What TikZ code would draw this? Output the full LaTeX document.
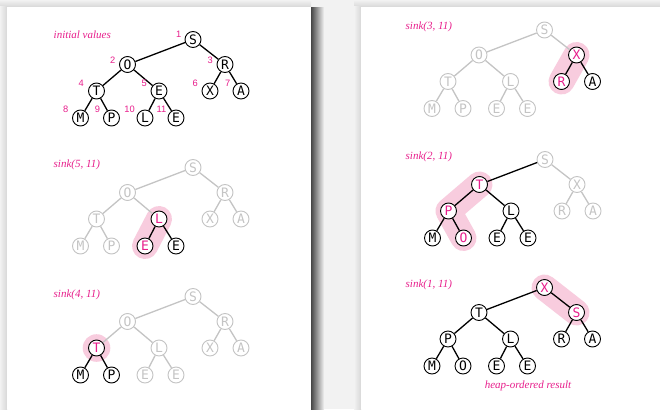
\documentclass[tikz,border=0pt]{standalone}
\usepackage{fontspec}
\usetikzlibrary{calc}
\newfontfamily\nodefam{DejaVu Sans Mono}
\newfontfamily\capfam{Liberation Serif}
\newfontfamily\numfam{Liberation Sans}
\definecolor{hpink}{RGB}{232,30,140}
\definecolor{hlpink}{RGB}{248,204,222}
\definecolor{lgray}{RGB}{196,196,196}
\definecolor{bgc}{RGB}{242,242,242}
\definecolor{shd}{RGB}{70,70,70}
\definecolor{shl}{RGB}{215,215,215}
\pgfdeclarelayer{back}
\pgfdeclarelayer{hlay}
\pgfsetlayers{back,hlay,main}
\tikzset{
  nd/.style={circle, fill=white, minimum size=16pt, inner sep=0pt, line width=0.9pt,
    font={\nodefam\fontsize{13}{15}\selectfont}},
  bn/.style={nd, draw=black, text=black},
  gn/.style={nd, draw=lgray, text=lgray},
  pn/.style={nd, draw=black, text=hpink},
  be/.style={line width=1.3pt, draw=black},
  ge/.style={line width=1.3pt, draw=lgray},
  hl/.style={line width=26pt, draw=hlpink, line cap=round, line join=round},
  capt/.style={font={\capfam\itshape\fontsize{11}{13}\selectfont}, text=hpink, inner sep=0pt, anchor=base west},
  num/.style={font={\numfam\fontsize{9.3}{11}\selectfont}, text=hpink, inner sep=0pt, anchor=east},
  hp1/.style={at={(0,0)}},
  hp2/.style={at={(-65.5,25)}},
  hp3/.style={at={(32,25)}},
  hp4/.style={at={(-96.5,51.5)}},
  hp5/.style={at={(-34,51.5)}},
  hp6/.style={at={(17,51.5)}},
  hp7/.style={at={(48,51.5)}},
  hp8/.style={at={(-112.5,78.5)}},
  hp9/.style={at={(-81.5,78.5)}},
  hp10/.style={at={(-48,78.5)}},
  hp11/.style={at={(-17,78.5)}},
}
\newcommand\tn[4]{\node[#3,hp#1] (#2) {#4};}
\newcommand\edges[2]{\foreach \p/\c in {#2}{\draw[#1] (\p) -- (\c);}}
\begin{document}
\begin{tikzpicture}[x=1pt,y=-1pt]
\useasboundingbox (0,0) rectangle (660,409);
\begin{pgfonlayer}{back}
  \fill[bgc] (0,0) rectangle (660,409);
  \shade[top color=bgc, bottom color=shl] (0,0) rectangle (311,7);
  \shade[left color=bgc, right color=shl] (0,7) rectangle (7,409);
  \fill[white] (7,7) rectangle (311,409);
  \shade[left color=shd, right color=bgc] (311,8) rectangle (324,409);
  \shade[top color=bgc, bottom color=shl] (354,0) rectangle (660,7);
  \shade[left color=bgc, right color=shl] (354,7) rectangle (361,409);
  \fill[white] (361,7) rectangle (660,409);
\end{pgfonlayer}

% captions
\node[capt] (c1) at (53.5,38.5) {initial values};
\node[capt] (c2) at (53.5,167.5) {sink(5, 11)};
\node[capt] (c3) at (53.5,297) {sink(4, 11)};
\node[capt] (c4) at (405.5,30) {sink(3, 11)};
\node[capt] (c5) at (405.5,159.5) {sink(2, 11)};
\node[capt] (c6) at (405.5,287.5) {sink(1, 11)};
\node[capt, anchor=base] (c7) at (528,388.5) {heap-ordered result};

% tree 1: initial values
\begin{scope}[shift={(193,39.5)}]
\tn{1}{a1}{bn}{S}\tn{2}{a2}{bn}{O}\tn{3}{a3}{bn}{R}\tn{4}{a4}{bn}{T}
\tn{5}{a5}{bn}{E}\tn{6}{a6}{bn}{X}\tn{7}{a7}{bn}{A}\tn{8}{a8}{bn}{M}
\tn{9}{a9}{bn}{P}\tn{10}{a10}{bn}{L}\tn{11}{a11}{bn}{E}
\end{scope}
\edges{be}{a1/a2,a1/a3,a2/a4,a2/a5,a3/a6,a3/a7,a4/a8,a4/a9,a5/a10,a5/a11}
\node[num] (k1) at ($(a1)+(-11.5,-5)$) {1};
\node[num] (k2) at ($(a2)+(-12,-4.5)$) {2};
\node[num] (k3) at ($(a3)+(-12,-4.5)$) {3};
\node[num] (k4) at ($(a4)+(-12.5,-7.5)$) {4};
\node[num] (k5) at ($(a5)+(-12,-7.5)$) {5};
\node[num] (k6) at ($(a6)+(-12,-7.5)$) {6};
\node[num] (k7) at ($(a7)+(-10.5,-7.5)$) {7};
\node[num] (k8) at ($(a8)+(-12,-9)$) {8};
\node[num] (k9) at ($(a9)+(-11.3,-9)$) {9};
\node[num] (k10) at ($(a10)+(-10,-9)$) {10};
\node[num] (k11) at ($(a11)+(-9.5,-9)$) {11};

% tree 2: sink(5,11)
\begin{scope}[shift={(193,167.5)}]
\tn{1}{b1}{gn}{S}\tn{2}{b2}{gn}{O}\tn{3}{b3}{gn}{R}\tn{4}{b4}{gn}{T}
\tn{5}{b5}{pn}{L}\tn{6}{b6}{gn}{X}\tn{7}{b7}{gn}{A}\tn{8}{b8}{gn}{M}
\tn{9}{b9}{gn}{P}\tn{10}{b10}{pn}{E}\tn{11}{b11}{bn}{E}
\end{scope}
\edges{ge}{b1/b2,b1/b3,b2/b4,b2/b5,b3/b6,b3/b7,b4/b8,b4/b9}
\edges{be}{b5/b10,b5/b11}
\begin{pgfonlayer}{hlay}\draw[hl] (b5.center) -- (b10.center);\end{pgfonlayer}

% tree 3: sink(4,11)
\begin{scope}[shift={(193,296.5)}]
\tn{1}{d1}{gn}{S}\tn{2}{d2}{gn}{O}\tn{3}{d3}{gn}{R}\tn{4}{d4}{pn}{T}
\tn{5}{d5}{gn}{L}\tn{6}{d6}{gn}{X}\tn{7}{d7}{gn}{A}\tn{8}{d8}{bn}{M}
\tn{9}{d9}{bn}{P}\tn{10}{d10}{gn}{E}\tn{11}{d11}{gn}{E}
\end{scope}
\edges{ge}{d1/d2,d1/d3,d2/d4,d2/d5,d3/d6,d3/d7,d5/d10,d5/d11}
\edges{be}{d4/d8,d4/d9}
\begin{pgfonlayer}{hlay}\fill[hlpink] (d4.center) circle (13.8pt);\end{pgfonlayer}

% tree 4: sink(3,11)
\begin{scope}[shift={(544.5,30)}]
\tn{1}{e1}{gn}{S}\tn{2}{e2}{gn}{O}\tn{3}{e3}{pn}{X}\tn{4}{e4}{gn}{T}
\tn{5}{e5}{gn}{L}\tn{6}{e6}{pn}{R}\tn{7}{e7}{bn}{A}\tn{8}{e8}{gn}{M}
\tn{9}{e9}{gn}{P}\tn{10}{e10}{gn}{E}\tn{11}{e11}{gn}{E}
\end{scope}
\edges{ge}{e1/e2,e1/e3,e2/e4,e2/e5,e4/e8,e4/e9,e5/e10,e5/e11}
\edges{be}{e3/e6,e3/e7}
\begin{pgfonlayer}{hlay}\draw[hl] (e3.center) -- (e6.center);\end{pgfonlayer}

% tree 5: sink(2,11)
\begin{scope}[shift={(545,159.5)}]
\tn{1}{f1}{gn}{S}\tn{2}{f2}{pn}{T}\tn{3}{f3}{gn}{X}\tn{4}{f4}{pn}{P}
\tn{5}{f5}{bn}{L}\tn{6}{f6}{gn}{R}\tn{7}{f7}{gn}{A}\tn{8}{f8}{bn}{M}
\tn{9}{f9}{pn}{O}\tn{10}{f10}{bn}{E}\tn{11}{f11}{bn}{E}
\end{scope}
\edges{ge}{f1/f3,f3/f6,f3/f7}
\edges{be}{f1/f2,f2/f4,f2/f5,f4/f8,f4/f9,f5/f10,f5/f11}
\begin{pgfonlayer}{hlay}\draw[hl] (f2.center) -- (f4.center) -- (f9.center);\end{pgfonlayer}

% tree 6: sink(1,11)
\begin{scope}[shift={(544.5,287.5)}]
\tn{1}{g1}{pn}{X}\tn{2}{g2}{bn}{T}\tn{3}{g3}{pn}{S}\tn{4}{g4}{bn}{P}
\tn{5}{g5}{bn}{L}\tn{6}{g6}{bn}{R}\tn{7}{g7}{bn}{A}\tn{8}{g8}{bn}{M}
\tn{9}{g9}{bn}{O}\tn{10}{g10}{bn}{E}\tn{11}{g11}{bn}{E}
\end{scope}
\edges{be}{g1/g2,g1/g3,g2/g4,g2/g5,g3/g6,g3/g7,g4/g8,g4/g9,g5/g10,g5/g11}
\begin{pgfonlayer}{hlay}\draw[hl] (g1.center) -- (g3.center);\end{pgfonlayer}
\end{tikzpicture}
\end{document}
